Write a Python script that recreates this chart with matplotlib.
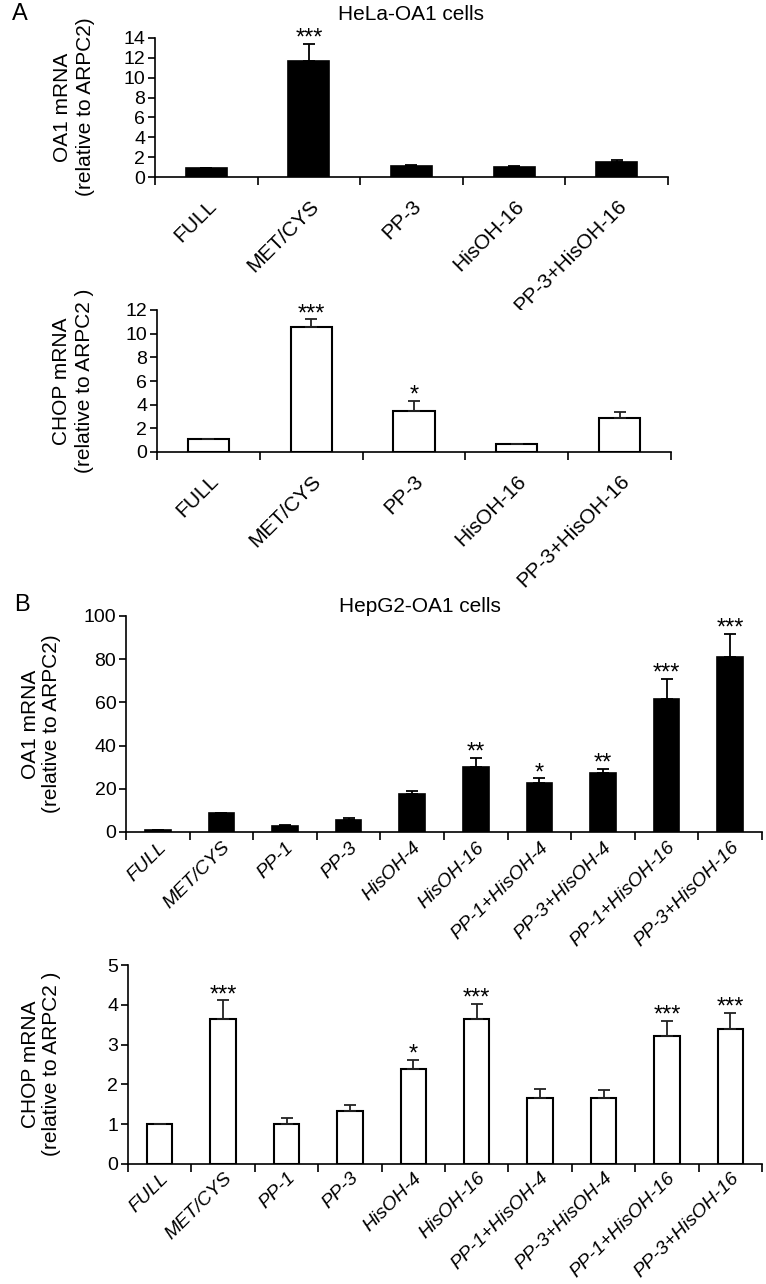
import numpy as np
import matplotlib
matplotlib.use("Agg")
import matplotlib.pyplot as plt

plt.rcParams['font.family'] = ['Liberation Sans', 'DejaVu Sans']

# Panel A: HeLa-OA1 cells
hela_groups = ["FULL", "MET/CYS", "PP-3", "HisOH-16", "PP-3+HisOH-16"]
hela_oa1 = [0.95, 11.7, 1.1, 1.0, 1.55]
hela_oa1_err = [0.0, 1.7, 0.15, 0.12, 0.15]
hela_oa1_sig = ["", "***", "", "", ""]
hela_chop = [1.08, 10.55, 3.45, 0.67, 2.9]
hela_chop_err = [0.0, 0.65, 0.9, 0.0, 0.5]
hela_chop_sig = ["", "***", "*", "", ""]

# Panel B: HepG2-OA1 cells
hepg2_groups = ["FULL", "MET/CYS", "PP-1", "PP-3", "HisOH-4", "HisOH-16",
                "PP-1+HisOH-4", "PP-3+HisOH-4", "PP-1+HisOH-16", "PP-3+HisOH-16"]
hepg2_oa1 = [0.9, 8.8, 2.6, 5.4, 17.6, 29.9, 22.8, 27.1, 61.7, 81.2]
hepg2_oa1_err = [0.0, 0.0, 0.8, 1.3, 1.5, 4.4, 2.0, 2.0, 9.3, 10.5]
hepg2_oa1_sig = ["", "", "", "", "", "**", "*", "**", "***", "***"]
hepg2_chop = [1.0, 3.65, 1.0, 1.34, 2.39, 3.65, 1.65, 1.65, 3.22, 3.4]
hepg2_chop_err = [0.0, 0.46, 0.15, 0.13, 0.23, 0.38, 0.23, 0.2, 0.38, 0.39]
hepg2_chop_sig = ["", "***", "", "", "*", "***", "", "", "***", "***"]

W, H = 766, 1284
fig = plt.figure(figsize=(W / 100, H / 100), dpi=100)


def box(x0, y0, x1, y1):
    # pixel box (top-left origin) -> figure fraction rect
    return [x0 / W, 1 - y1 / H, (x1 - x0) / W, (y1 - y0) / H]


def bar_panel(rect, groups, vals, errs, sig, ymax, ystep, filled, italic, lpad, lsize):
    ax = fig.add_axes(rect)
    n = len(groups)
    x = np.arange(n) + 0.5
    if filled:
        ax.bar(x, vals, width=0.4, color="black", edgecolor="black", linewidth=1.2, zorder=2)
        ecol = "black"
    else:
        ax.bar(x, vals, width=0.4, color="white", edgecolor="black", linewidth=1.5, zorder=2)
        ecol = "#222222"
    ax.errorbar(x, vals, yerr=[np.zeros(n), errs], fmt="none", ecolor=ecol,
                elinewidth=1.3, capsize=4, capthick=1.3, zorder=3)
    for xi, v, e, s in zip(x, vals, errs, sig):
        if s:
            ax.annotate(s, (xi, v + e), xytext=(0, -0.5), textcoords="offset points",
                        ha="center", va="baseline", fontsize=17)
    ax.set_xlim(0, n)
    ax.set_ylim(0, ymax)
    ax.set_yticks(np.arange(0, ymax + ystep / 2, ystep))
    ax.set_xticks(np.arange(n + 1))
    ax.set_xticklabels([])
    ax.set_xticks(x, minor=True)
    ax.set_xticklabels(groups, minor=True, rotation=45, ha="right", va="top",
                       rotation_mode="anchor", fontsize=lsize,
                       style="italic" if italic else "normal")
    ax.tick_params(axis="x", which="minor", length=0, pad=lpad)
    ax.tick_params(axis="x", which="major", length=6, width=1.2, direction="out")
    ax.tick_params(axis="y", length=5, width=1.2, labelsize=14, pad=2)
    for s in ["top", "right"]:
        ax.spines[s].set_visible(False)
    for s in ["left", "bottom"]:
        ax.spines[s].set_linewidth(1.2)
    return ax


bar_panel(box(155, 38, 668, 177), hela_groups, hela_oa1, hela_oa1_err, hela_oa1_sig,
          14, 2, True, False, 14, 15)
bar_panel(box(157, 310, 671, 452), hela_groups, hela_chop, hela_chop_err, hela_chop_sig,
          12, 2, False, False, 14, 15)
bar_panel(box(126, 616, 762, 832), hepg2_groups, hepg2_oa1, hepg2_oa1_err, hepg2_oa1_sig,
          100, 20, True, True, 5, 14)
bar_panel(box(128, 965, 762, 1164), hepg2_groups, hepg2_chop, hepg2_chop_err, hepg2_chop_sig,
          5, 1, False, True, 4, 14)

# panel letters and titles
fig.text(12 / W, 1 - 14 / H, "A", fontsize=17, ha="left", va="center")
fig.text(14 / W, 1 - 605 / H, "B", fontsize=17, ha="left", va="center")
fig.text(411 / W, 1 - 15 / H, "HeLa-OA1 cells", fontsize=15, ha="center", va="center")
fig.text(420 / W, 1 - 606 / H, "HepG2-OA1 cells", fontsize=15, ha="center", va="center")

# y-axis labels
fig.text(74 / W, 1 - 107 / H, "OA1 mRNA\n(relative to ARPC2)", rotation=90,
         fontsize=15, ha="center", va="center", linespacing=1.3)
fig.text(73 / W, 1 - 381 / H, "CHOP mRNA\n(relative to ARPC2 )", rotation=90,
         fontsize=15, ha="center", va="center", linespacing=1.3)
fig.text(41 / W, 1 - 724 / H, "OA1 mRNA\n(relative to ARPC2)", rotation=90,
         fontsize=15, ha="center", va="center", linespacing=1.15)
fig.text(41 / W, 1 - 1064 / H, "CHOP mRNA\n(relative to ARPC2 )", rotation=90,
         fontsize=15, ha="center", va="center", linespacing=1.15)

fig.savefig("out.png", dpi=100)
